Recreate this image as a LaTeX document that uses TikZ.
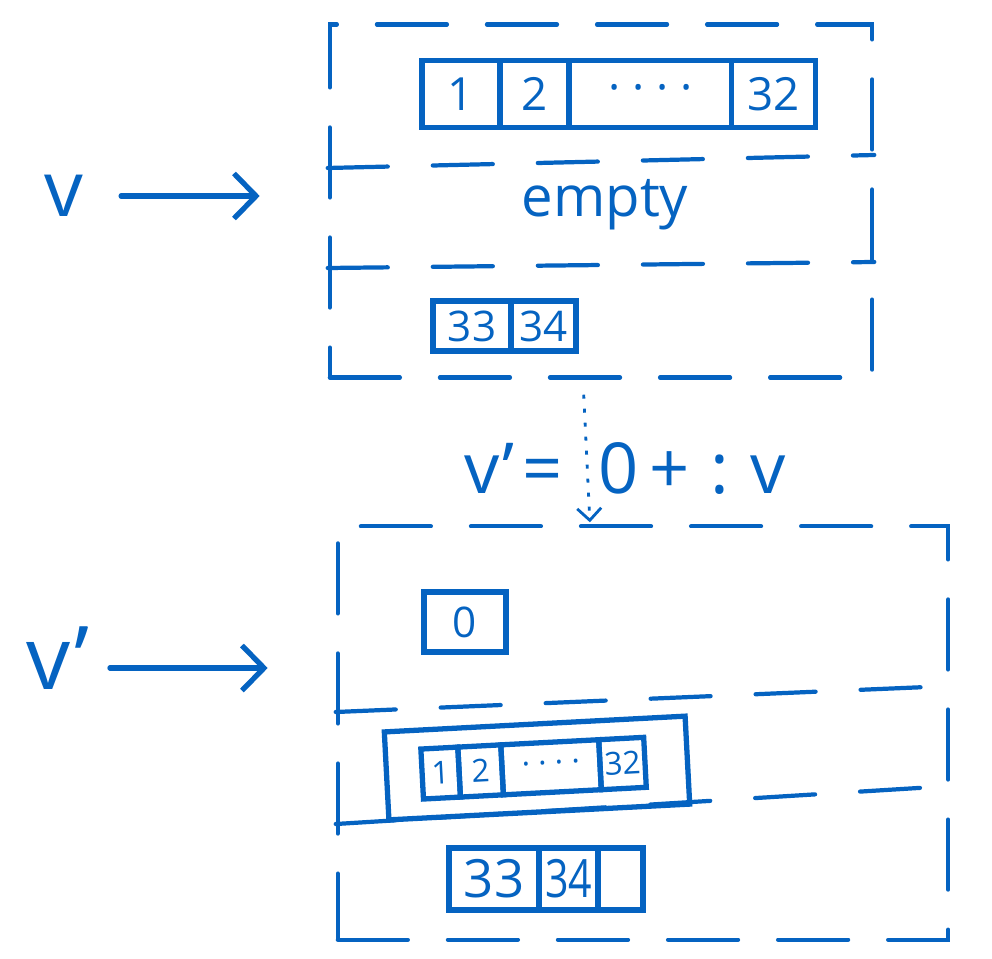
\documentclass[tikz,border=0pt]{standalone}
\usepackage{fontspec}
\usepackage{graphicx}
\setmainfont{Open Sans}
\usetikzlibrary{arrows.meta,positioning}
\definecolor{ink}{RGB}{5,99,193}
\begin{document}
\begin{tikzpicture}[x=0.01cm,y=-0.01cm,
  hand/.style={draw=ink, line width=1.5pt, line cap=round, line join=round},
  dashbox/.style={draw=ink, line width=1.2pt, line cap=round, dash pattern=on 0.7cm off 0.4cm, rectangle, inner sep=0pt},
  dashline/.style={draw=ink, line width=1.2pt, line cap=round, dash pattern=on 0.6cm off 0.45cm},
  cell/.style={draw=ink, line width=1.5pt, text=ink, rectangle, inner sep=0pt, outer sep=0pt, anchor=west},
  lbl/.style={text=ink, inner sep=0pt},
  bigarrow/.style={hand, -{Straight Barb[length=0.22cm, width=0.45cm, line width=1.5pt]}},
  dotarrow/.style={draw=ink, line width=0.8pt, dash pattern=on 0.04cm off 0.1cm, -{Straight Barb[length=0.12cm, width=0.24cm, line width=0.8pt]}}
]
\useasboundingbox (0,0) rectangle (992,958);

% ---------- top structure ----------
\node[dashbox, minimum width=5.42cm, minimum height=3.53cm] (topbox) at (601,201) {};
\draw[dashline] (topbox.west |- 0,168) -- (topbox.east |- 0,155);
\draw[dashline] (topbox.west |- 0,268) -- (topbox.east |- 0,262);

\begin{scope}[every node/.append style={font=\fontsize{13}{13}\selectfont, minimum height=0.67cm}]
\node[cell, minimum width=0.78cm] (t1) at (422,94) {1};
\node[cell, minimum width=0.69cm, right=0pt of t1] (t2) {2};
\node[cell, minimum width=1.62cm, right=0pt of t2] (td) {· · · ·};
\node[cell, minimum width=0.84cm, right=0pt of td] (t32) {32};
\end{scope}

\node[lbl, font=\fontsize{16}{16}\selectfont] (empty) at (605,205) {empty};

\begin{scope}[every node/.append style={font=\fontsize{12}{12}\selectfont, minimum height=0.50cm}]
\node[cell, minimum width=0.78cm] (t33) at (433,326) {33};
\node[cell, minimum width=0.65cm, right=0pt of t33] (t34) {34};
\end{scope}

\node[lbl, font=\fontsize{22}{22}\selectfont] (v) at (64,196) {v};
\draw[bigarrow, shorten <=0.37cm, shorten >=0.68cm] (v.east) -- (v.east -| topbox.west);

% ---------- formula ----------
\node[lbl, font=\fontsize{20}{20}\selectfont] (formula) at (625,468) {v'\hspace{0.12em}=\hspace{0.5em}0\hspace{0.15em}+\hspace{0.3em}:\hspace{0.3em}v};

% ---------- bottom structure ----------
\node[dashbox, minimum width=6.10cm, minimum height=4.13cm] (botbox) at (643,733) {};
\draw[dashline] (botbox.west |- 0,712) -- (botbox.east |- 0,686);
\draw[dashline] (botbox.west |- 0,824) -- (botbox.east |- 0,786);

\draw[dotarrow, shorten <=0.15cm, shorten >=0.02cm] ([xshift=-0.18cm]topbox.south) -- ([xshift=-0.53cm]botbox.north);

\node[cell, minimum width=0.82cm, minimum height=0.60cm, font=\fontsize{12}{12}\selectfont] (b0) at (424,622) {0};

\begin{scope}[rotate around={3:(537,768)}, transform shape]
\node[draw=ink, line width=1.5pt, rectangle, minimum width=3.01cm, minimum height=0.88cm, inner sep=0pt] (mid) at (537,768) {};
\begin{scope}[every node/.append style={font=\fontsize{9}{9}\selectfont, minimum height=0.50cm}]
\node[cell, minimum width=0.37cm] (m1) at (422,768) {1};
\node[cell, minimum width=0.43cm, right=0pt of m1] (m2) {2};
\node[cell, minimum width=0.98cm, right=0pt of m2] (md) {· · · ·};
\node[cell, minimum width=0.45cm, right=0pt of md] (m32) {32};
\end{scope}
\end{scope}

\begin{scope}[every node/.append style={font=\fontsize{15}{15}\selectfont, minimum height=0.62cm}]
\node[cell, minimum width=0.90cm] (b33) at (449,879) {33};
\node[cell, minimum width=0.59cm, right=0pt of b33] (b34) {\scalebox{0.78}[1]{34}};
\node[cell, minimum width=0.45cm, right=0pt of b34] (bx) {};
\end{scope}

\node[lbl, font=\fontsize{25}{25}\selectfont] (vp) at (58,658) {v'};
\draw[bigarrow, shorten <=0.2cm, shorten >=0.68cm] (vp.east |- 0,668) -- (botbox.west |- 0,668);
\end{tikzpicture}
\end{document}
